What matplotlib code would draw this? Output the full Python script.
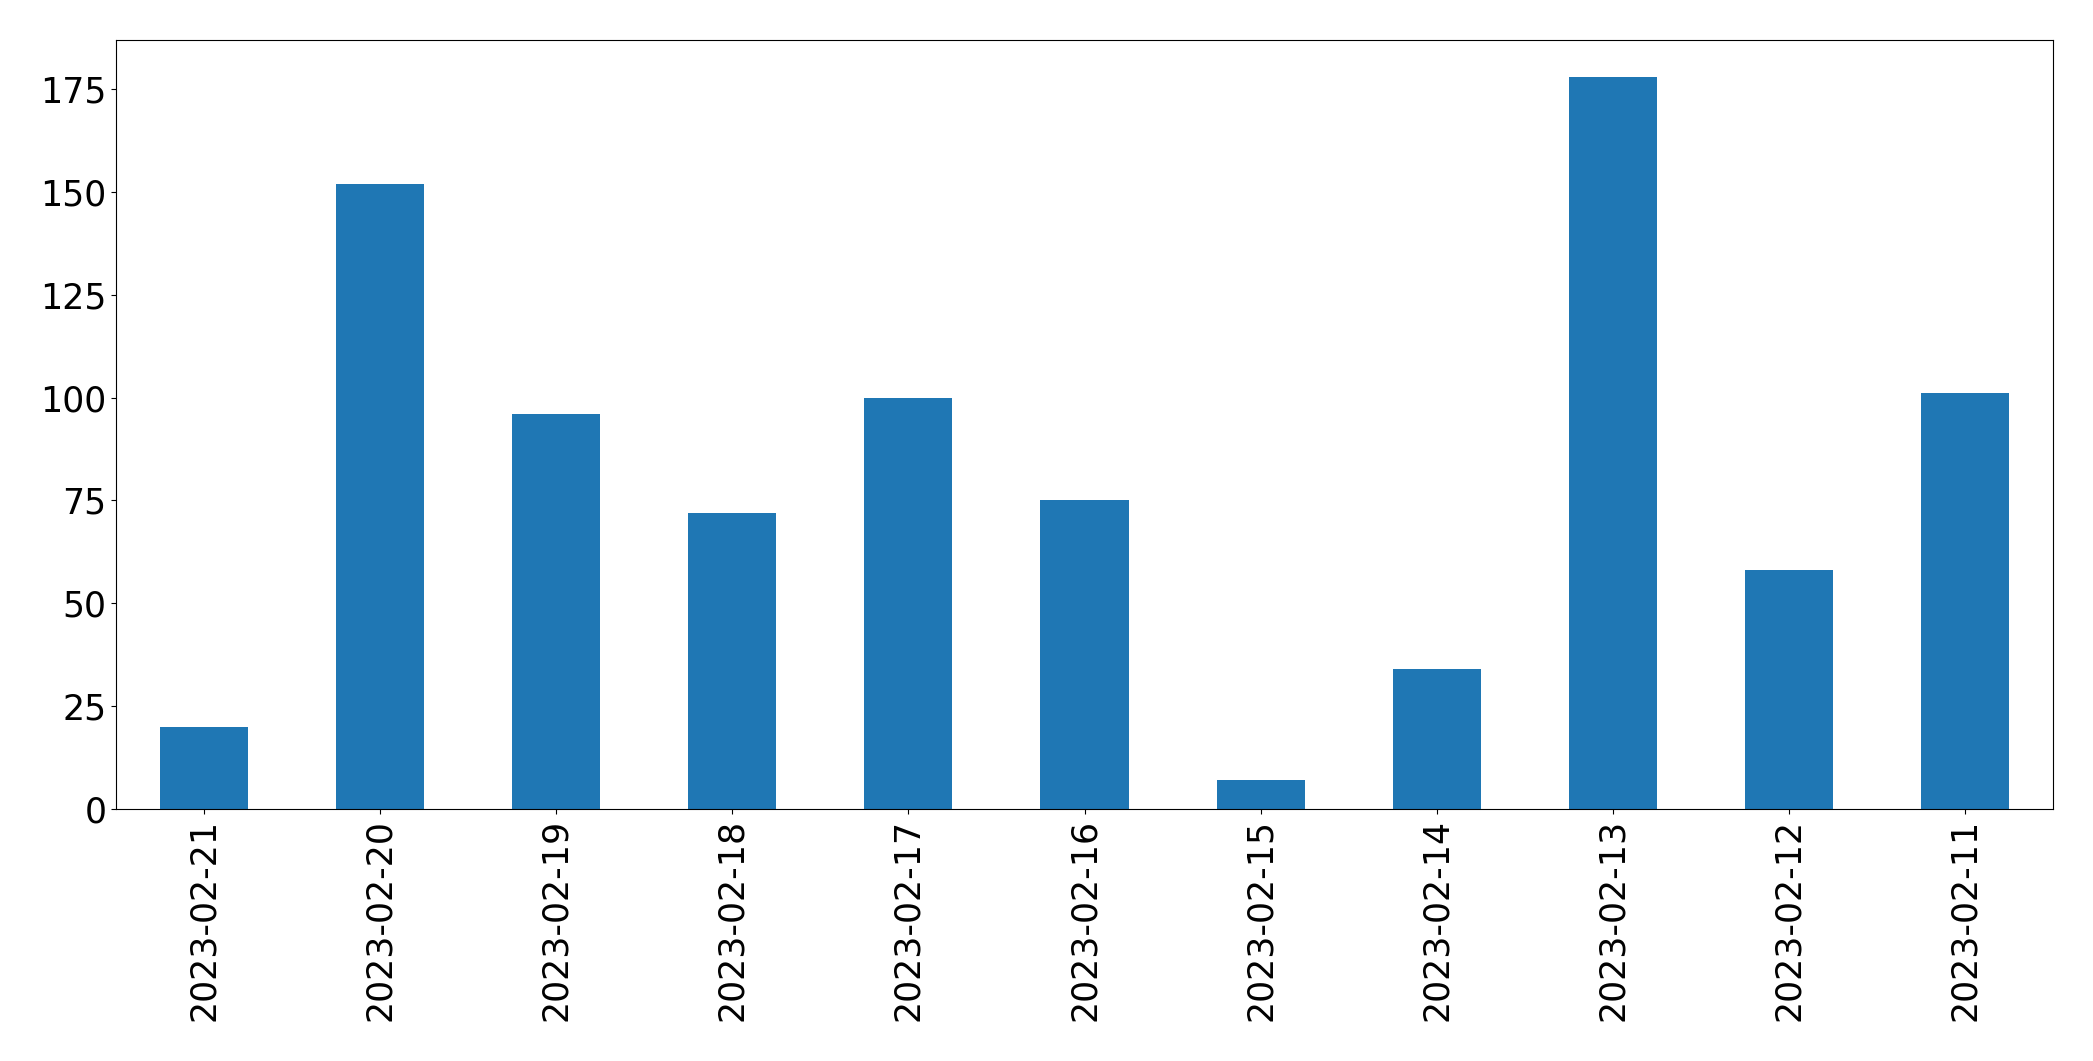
import matplotlib
matplotlib.use("Agg")
import matplotlib.pyplot as plt

# daily counts, newest first (as in the source chart)
dates = [
    "2023-02-21", "2023-02-20", "2023-02-19", "2023-02-18", "2023-02-17",
    "2023-02-16", "2023-02-15", "2023-02-14", "2023-02-13", "2023-02-12",
    "2023-02-11",
]
counts = [20, 152, 96, 72, 100, 75, 7, 34, 178, 58, 101]


def main() -> None:
    fig = plt.figure(figsize=(20.93, 10.61), dpi=100)
    ax = fig.add_axes([116 / 2093, 1 - 809 / 1061, (2053 - 116) / 2093, (809 - 40) / 1061])

    x = range(len(dates))
    ax.bar(x, counts, width=0.5, color="#1f77b4")
    ax.set_xlim(-0.5, len(dates) - 0.5)
    ax.set_xticks(list(x))
    ax.set_xticklabels(dates, rotation=90)
    ax.tick_params(axis="both", labelsize=25)

    fig.savefig("out.png", dpi=100)
    plt.close(fig)


if __name__ == "__main__":
    main()
